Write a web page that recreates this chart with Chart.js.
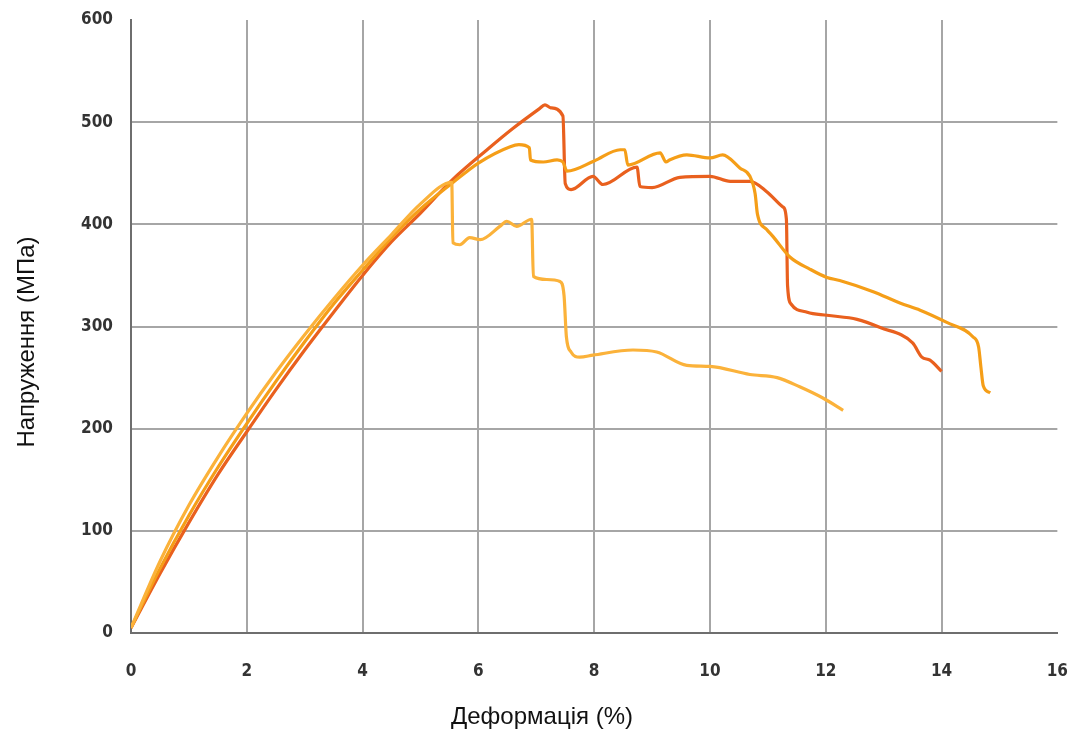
<!DOCTYPE html>
<html lang="uk">
  <head>
    <meta charset="utf-8" />
    <title>Напруження - деформація</title>
    <style>
      * {
        margin: 0;
        padding: 0;
        box-sizing: border-box;
      }
      body {
        background: #ffffff;
        width: 1068px;
        height: 735px;
      }
      .wrapper {
        position: relative;
        width: 1068px;
        height: 735px;
      }
    </style>
  </head>
  <body>
    <div class="wrapper">
      <canvas id="chart"></canvas>
    </div>
    <script src="https://cdn.jsdelivr.net/npm/chart.js@4.4.1/dist/chart.umd.min.js"></script>
    <script>
      // Зразок 1 (червоно-помаранчевий)
      const strain1 = [0, 0.5, 1, 1.5, 2, 2.5, 3, 3.5, 4, 4.5, 5, 5.54, 6.15, 6.6, 7.05, 7.15, 7.25, 7.46, 7.5, 7.6, 7.98, 8.15, 8.74, 8.79, 9.0, 9.48, 10.0, 10.35, 10.69, 10.98, 11.26, 11.32, 11.34, 11.4, 11.68, 12.02, 12.54, 12.94, 13.5, 13.66, 13.8, 14.0];
      const stress1 = [5, 58, 108, 155, 197, 238, 277, 314, 350, 383, 411, 443, 473, 494, 513, 517, 514, 506, 440, 434, 447, 439, 456, 437, 436, 446, 447, 442, 442, 432, 417, 405, 340, 322, 314, 311, 307, 299, 284, 270, 267, 256];

      // Зразок 2 (помаранчевий)
      const strain2 = [0, 0.5, 1, 1.5, 2, 2.5, 3, 3.5, 4, 4.5, 5, 5.54, 6, 6.55, 6.7, 6.88, 6.9, 7.12, 7.36, 7.46, 7.53, 8.0, 8.45, 8.53, 8.58, 9.14, 9.24, 9.3, 9.6, 10.0, 10.22, 10.52, 10.69, 10.78, 10.82, 10.98, 11.09, 11.38, 11.73, 12.02, 12.24, 12.82, 13.28, 13.63, 14.09, 14.54, 14.64, 14.68, 14.72, 14.84];
      const stress2 = [5, 63, 115, 162, 205, 246, 285, 322, 355, 387, 415, 440, 460, 476, 478, 475, 463, 461, 463, 461, 452, 462, 473, 473, 458, 470, 461, 463, 468, 465, 468, 455, 447, 430, 410, 395, 388, 368, 356, 348, 345, 334, 323, 316, 304, 290, 280, 260, 242, 235];

      // Зразок 3 (світло-помаранчевий)
      const strain3 = [0, 0.5, 1, 1.5, 2, 2.5, 3, 3.5, 4, 4.5, 5, 5.54, 5.56, 5.68, 5.85, 6.03, 6.37, 6.49, 6.66, 6.92, 6.95, 7.18, 7.41, 7.48, 7.52, 7.6, 7.75, 7.98, 8.67, 9.08, 9.6, 10.0, 10.69, 11.16, 11.55, 11.95, 12.3];
      const stress3 = [5, 70, 125, 172, 215, 255, 292, 327, 360, 390, 420, 441, 382, 380, 387, 385, 398, 403, 398, 405, 349, 346, 344, 330, 290, 275, 270, 272, 277, 275, 262, 261, 253, 250, 241, 230, 218];

      const xTicks = [0, 2, 4, 6, 8, 10, 12, 14, 16];
      const yTicks = [0, 100, 200, 300, 400, 500, 600];

      const toPoints = (xs, ys) => xs.map((x, i) => ({ x: x, y: ys[i] }));

      const tickFont = { family: "'DejaVu Sans Condensed', 'DejaVu Sans', sans-serif", size: 17, weight: "bold" };
      const gridColor = "#a6a6a6";
      const axisColor = "#6e6e6e";

      // підписи осей
      const axisTitles = {
        id: "axisTitles",
        afterDraw(chart) {
          const { ctx, chartArea } = chart;
          ctx.save();
          ctx.fillStyle = "#111111";
          ctx.font = "24px 'Liberation Sans', Arial, sans-serif";
          ctx.textAlign = "center";
          ctx.textBaseline = "middle";
          ctx.fillText("Деформація (%)", chartArea.left + 411, chartArea.bottom + 84);
          ctx.translate(27, chartArea.top + 322);
          ctx.rotate(-Math.PI / 2);
          ctx.fillText("Напруження (МПа)", 0, 0);
          ctx.restore();
        },
      };

      const canvas = document.getElementById("chart");
      canvas.width = 1068;
      canvas.height = 735;

      const line = (xs, ys, color) => ({
        data: toPoints(xs, ys),
        borderColor: color,
        borderWidth: 3.2,
        showLine: true,
        pointRadius: 0,
        cubicInterpolationMode: "monotone",
      });

      new Chart(canvas, {
        type: "scatter",
        plugins: [axisTitles],
        data: {
          datasets: [
            line(strain3, stress3, "#fbb23a"),
            line(strain2, stress2, "#f59e18"),
            line(strain1, stress1, "#e9601e"),
          ],
        },
        options: {
          responsive: false,
          animation: false,
          layout: { padding: { top: 20, right: 10, left: 0, bottom: 0 } },
          plugins: {
            legend: { display: false },
            tooltip: { enabled: false },
          },
          scales: {
            x: {
              type: "linear",
              min: 0,
              max: 16,
              afterBuildTicks: (axis) => {
                axis.ticks = xTicks.map((v) => ({ value: v }));
              },
              afterFit: (axis) => {
                axis.height = 102;
              },
              ticks: {
                color: "#333333",
                font: tickFont,
                padding: 0,
              },
              grid: {
                drawTicks: true,
                tickLength: 28,
                tickColor: "rgba(0,0,0,0)",
                lineWidth: 2,
                color: (ctx) => (ctx.tick && (ctx.tick.value === 16 || ctx.tick.value === 0) ? "rgba(0,0,0,0)" : gridColor),
              },
              border: { display: true, color: axisColor, width: 2 },
            },
            y: {
              type: "linear",
              min: 0,
              max: 600,
              afterBuildTicks: (axis) => {
                axis.ticks = yTicks.map((v) => ({ value: v }));
              },
              afterFit: (axis) => {
                axis.width = 131;
              },
              ticks: {
                color: "#333333",
                font: tickFont,
                padding: 0,
              },
              grid: {
                drawTicks: true,
                tickLength: 18,
                tickColor: "rgba(0,0,0,0)",
                lineWidth: 2,
                color: (ctx) => (ctx.tick && (ctx.tick.value === 600 || ctx.tick.value === 0) ? "rgba(0,0,0,0)" : gridColor),
              },
              border: { display: true, color: axisColor, width: 2 },
            },
          },
        },
      });
    </script>
  </body>
</html>
